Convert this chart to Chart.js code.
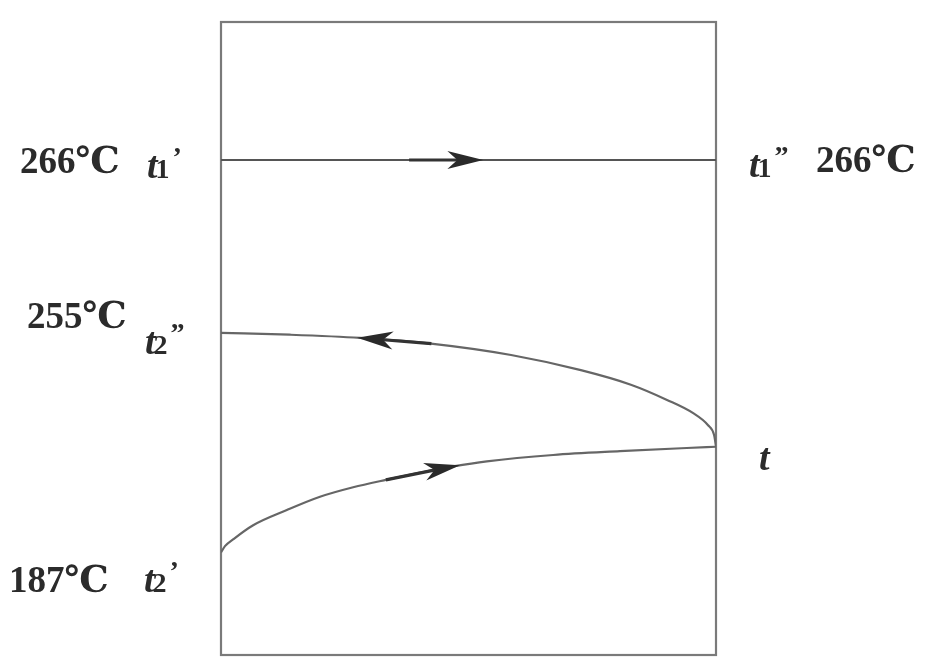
<!DOCTYPE html>
<html>
<head>
<meta charset="utf-8">
<script src="https://cdn.jsdelivr.net/npm/chart.js@4"></script>
<style>
  html, body { margin: 0; padding: 0; background: #fff; }
  #wrap { width: 928px; height: 672px; }
</style>
</head>
<body>
<div id="wrap"><canvas id="chart" width="928" height="672"></canvas></div>
<script>
// Данные схемы (условные единицы: x — длина 0..100, y — уровень 0..100)
const hotX = [0, 100];
const hotY = [78.2, 78.2];

// t2'' <- t : верхняя кривая
const outX = [0, 13.9, 28.1, 42.4, 58.6, 72.7, 82.8, 90.1, 95.4, 98.4, 99.6, 100];
const outY = [50.9, 50.6, 50.1, 49.2, 47.4, 45.0, 42.7, 40.3, 38.2, 36.3, 34.8, 33.0];

// t2' -> t : нижняя кривая
const inX = [0, 0.8, 2.5, 6.5, 13.3, 20.0, 26.7, 33.5, 40.2, 46.9, 53.7, 67.1, 80.6, 94.1, 100];
const inY = [16.2, 17.2, 18.3, 20.5, 22.9, 25.0, 26.5, 27.7, 28.8, 29.8, 30.6, 31.6, 32.2, 32.7, 32.9];

// Стрелки: номер линии, положение острия по x, направление
const arrowLine = [0, 1, 2];
const arrowAt = [53.0, 27.5, 48.3];
const arrowDir = [1, -1, 1];

// Подписи
const tempLabels = ['266℃', '266℃', '255℃', '187℃'];

function toPoints(xs, ys) {
    return xs.map((x, i) => ({ x: x, y: ys[i] }));
}

// Рамка вокруг области графика
const boxPlugin = {
    id: 'box',
    beforeDatasetsDraw(chart) {
        const a = chart.chartArea;
        const ctx = chart.ctx;
        ctx.save();
        ctx.strokeStyle = '#7a7a7a';
        ctx.lineWidth = 2.2;
        ctx.strokeRect(a.left, a.top, a.right - a.left, a.bottom - a.top);
        ctx.restore();
    }
};

// Точка на линии по значению x (линейно между точками набора)
function pointOnLine(chart, dsIndex, xVal) {
    const ds = chart.data.datasets[dsIndex].data;
    const sx = chart.scales.x, sy = chart.scales.y;
    for (let i = 0; i < ds.length - 1; i++) {
        if (xVal >= ds[i].x && xVal <= ds[i + 1].x) {
            const f = (xVal - ds[i].x) / (ds[i + 1].x - ds[i].x);
            const y = ds[i].y + f * (ds[i + 1].y - ds[i].y);
            return { x: sx.getPixelForValue(xVal), y: sy.getPixelForValue(y) };
        }
    }
    return null;
}

const arrowPlugin = {
    id: 'arrows',
    afterDatasetsDraw(chart) {
        const ctx = chart.ctx;
        arrowLine.forEach((line, i) => {
            const tip = pointOnLine(chart, line, arrowAt[i]);
            const back = pointOnLine(chart, line, arrowAt[i] - arrowDir[i] * 6);
            if (!tip || !back) return;
            const ang = Math.atan2(tip.y - back.y, tip.x - back.x);
            const tail = pointOnLine(chart, line, arrowAt[i] - arrowDir[i] * 15);
            ctx.save();
            ctx.strokeStyle = '#333';
            ctx.lineWidth = 3.2;
            ctx.beginPath();
            ctx.moveTo(tail.x, tail.y);
            ctx.lineTo(tip.x - Math.cos(ang) * 20, tip.y - Math.sin(ang) * 20);
            ctx.stroke();
            ctx.translate(tip.x, tip.y);
            ctx.rotate(ang);
            ctx.fillStyle = '#2a2a2a';
            ctx.beginPath();
            ctx.moveTo(0, 0);
            ctx.lineTo(-36, -9);
            ctx.lineTo(-26, 0);
            ctx.lineTo(-36, 9);
            ctx.closePath();
            ctx.fill();
            ctx.restore();
        });
    }
};

function drawT(ctx, x, base, sub, prime) {
    ctx.fillStyle = '#2b2b2b';
    ctx.font = 'italic bold 38px "Liberation Serif", serif';
    ctx.fillText('t', x, base);
    const w = ctx.measureText('t').width;
    ctx.font = 'bold 28px "Liberation Serif", serif';
    ctx.fillText(sub, x + w - 2, base);
    const w2 = ctx.measureText(sub).width;
    ctx.font = 'bold 28px "Liberation Serif", serif';
    ctx.fillText(prime, x + w + w2 + 1, base - 12);
}

const labelPlugin = {
    id: 'labels',
    afterDraw(chart) {
        const ctx = chart.ctx;
        const sy = chart.scales.y;
        const yHot = sy.getPixelForValue(hotY[0]);
        const yOut = sy.getPixelForValue(outY[0]);
        const yIn = sy.getPixelForValue(inY[0]);
        const yT = sy.getPixelForValue(inY[inY.length - 1]);
        ctx.save();
        ctx.textBaseline = 'alphabetic';
        ctx.fillStyle = '#2b2b2b';
        ctx.font = 'bold 37px "Liberation Serif", "DejaVu Serif", serif';
        ctx.fillText(tempLabels[0], 20, yHot + 13);
        ctx.fillText(tempLabels[1], 816, yHot + 12);
        ctx.fillText(tempLabels[2], 27, yOut - 5);
        ctx.fillText(tempLabels[3], 9, yIn + 40);
        drawT(ctx, 147, yHot + 18, '1', '’');
        drawT(ctx, 749, yHot + 17, '1', '”');
        drawT(ctx, 145, yOut + 21, '2', '”');
        drawT(ctx, 144, yIn + 40, '2', '’');
        ctx.font = 'italic bold 38px "Liberation Serif", serif';
        ctx.fillText('t', 759, yT + 23);
        ctx.restore();
    }
};

const ctx = document.getElementById('chart').getContext('2d');
new Chart(ctx, {
    type: 'scatter',
    data: {
        datasets: [
            {
                data: toPoints(hotX, hotY),
                showLine: true,
                borderColor: '#555',
                borderWidth: 2.2,
                pointRadius: 0
            },
            {
                data: toPoints(outX, outY),
                showLine: true,
                borderColor: '#666',
                borderWidth: 2.2,
                pointRadius: 0,
                cubicInterpolationMode: 'monotone'
            },
            {
                data: toPoints(inX, inY),
                showLine: true,
                borderColor: '#666',
                borderWidth: 2.2,
                pointRadius: 0,
                cubicInterpolationMode: 'monotone'
            }
        ]
    },
    options: {
        responsive: false,
        animation: false,
        layout: { padding: { left: 221, right: 212, top: 22, bottom: 17 } },
        plugins: { legend: { display: false }, tooltip: { enabled: false } },
        scales: {
            x: { type: 'linear', min: 0, max: 100, display: false },
            y: { type: 'linear', min: 0, max: 100, display: false }
        }
    },
    plugins: [boxPlugin, arrowPlugin, labelPlugin]
});
</script>
</body>
</html>
